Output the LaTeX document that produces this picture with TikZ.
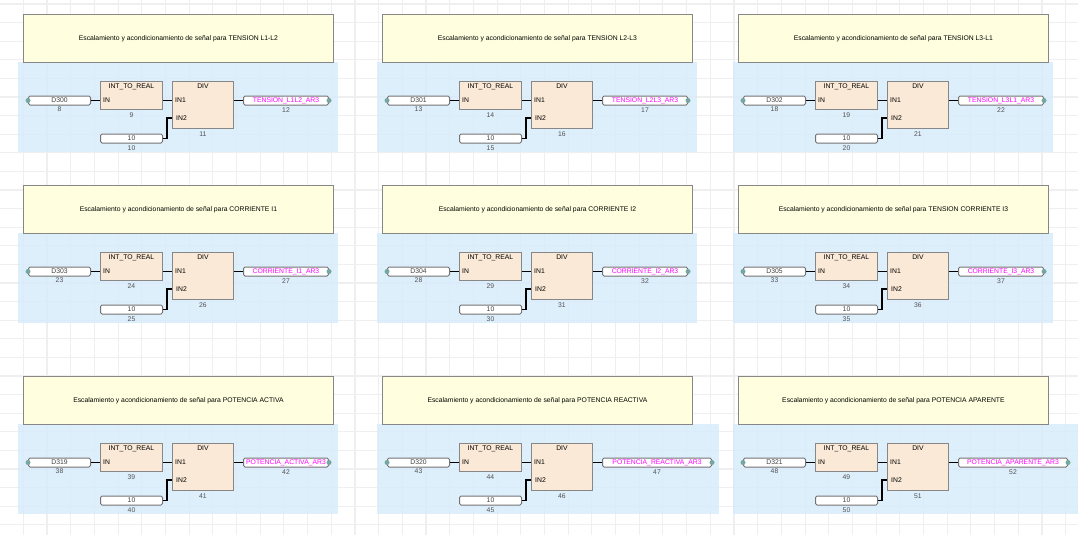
\documentclass[tikz,border=0pt]{standalone}
\usepackage{fontspec}
\setmainfont{Liberation Sans}
\usetikzlibrary{positioning}
\definecolor{gridgray}{RGB}{239,239,239}
\definecolor{rungblue}{RGB}{214,235,252}
\definecolor{notefill}{RGB}{255,255,224}
\definecolor{fbfill}{RGB}{250,233,214}
\definecolor{boxgray}{RGB}{135,135,135}
\definecolor{pinteal}{RGB}{118,166,160}
\definecolor{numgray}{RGB}{80,80,80}
\definecolor{outpink}{RGB}{255,0,255}
\begin{document}
\begin{tikzpicture}[x=1pt,y=-1pt,font=\fontsize{6.8}{8}\selectfont,
		note/.style={draw=boxgray,fill=notefill,line width=0.9pt,minimum width=310pt,minimum height=48pt,anchor=north west,inner sep=0pt},
		varbox/.style={draw=boxgray!85!black,fill=white,rounded corners=1.5pt,line width=1pt,minimum height=9pt,inner sep=0pt,anchor=north west,text=numgray!80!black},
		fb/.style={draw=boxgray,fill=fbfill,line width=0.9pt,anchor=north west,inner sep=0pt},
		pinend/.style={circle,fill=pinteal,minimum size=5pt,inner sep=0pt},
		num/.style={text=numgray,inner sep=0pt},
		wire/.style={line width=1.8pt,black}]
				\useasboundingbox (0,0) rectangle (1078,535);
				\fill[white] (0,0) rectangle (1078,535);
				\foreach \gx in {0,...,45} \draw[gridgray,line width=1.1pt] (\gx*23.69-0.4,0) -- (\gx*23.69-0.4,535);
				\foreach \gy in {0,...,28} \draw[gridgray,line width=1.1pt] (0,4+\gy*18.6) -- (1078,4+\gy*18.6);

				\foreach \bx/\by/\title/\var/\n/\out/\ow/\bw [count=\k] in {
						23/14/TENSION L1-L2/D300/8/TENSION\_L1L2\_AR3/85/315,
						382/14/TENSION L2-L3/D301/13/TENSION\_L2L3\_AR3/85/315,
						738/14/TENSION L3-L1/D302/18/TENSION\_L3L1\_AR3/85/315,
						23/185/CORRIENTE I1/D303/23/CORRIENTE\_I1\_AR3/85/315,
						382/185/CORRIENTE I2/D304/28/CORRIENTE\_I2\_AR3/85/315,
						738/185/TENSION CORRIENTE I3/D305/33/CORRIENTE\_I3\_AR3/85/315,
						23/376/POTENCIA ACTIVA/D319/38/POTENCIA\_ACTIVA\_AR3/85/315,
						382/376/POTENCIA REACTIVA/D320/43/POTENCIA\_REACTIVA\_AR3/109/337,
						738/376/POTENCIA APARENTE/D321/48/POTENCIA\_APARENTE\_AR3/109/340}{
					\pgfmathtruncatemacro{\na}{\n+1}
					\pgfmathtruncatemacro{\nb}{\n+2}
					\pgfmathtruncatemacro{\nc}{\n+3}
					\pgfmathtruncatemacro{\nd}{\n+4}
					\begin{scope}[shift={(\bx,\by)}]
						\fill[rungblue,fill opacity=0.8] (-5,48) rectangle (\bw,138);
						\node[note] (note\k) at (0,0) {Escalamiento y acondicionamiento de señal para \title};

						\node[varbox,minimum width=62pt] (var\k) at (5,81.5) {\var};
						\node[fb,minimum width=62pt,minimum height=28pt] (int\k) at (77,67) {};
						\node[fb,minimum width=61pt,minimum height=47pt] (div\k) at (149,67) {};
						\node[varbox,minimum width=62pt] (const\k) at (77,119.5) {10};
						\node[varbox,minimum width=\ow pt,text=outpink] (out\k) at (220,81.5) {\out};

						\node[anchor=north,inner sep=0pt] (intname\k) at ([yshift=-2.5pt]int\k.north) {INT\_TO\_REAL};
						\node[anchor=north,inner sep=0pt] (divname\k) at ([yshift=-2.5pt]div\k.north) {DIV};
						\node[anchor=west,inner sep=0pt] (in\k) at ([xshift=3pt]int\k.west |- var\k) {IN};
						\node[anchor=west,inner sep=0pt] (ina\k) at ([xshift=3pt]div\k.west |- var\k) {IN1};
						\node[anchor=west,inner sep=0pt] (inb\k) at (153,104) {IN2};

						\node[num,below=1.5pt of var\k] (nvar\k) {\n};
						\node[num,below=2.5pt of int\k] (nint\k) {\na};
						\node[num,below=2pt of const\k] (nconst\k) {\nb};
						\node[num,below=2.5pt of div\k] (ndiv\k) {\nc};
						\node[num,below=2pt of out\k] (nout\k) {\nd};

						\draw[wire] (var\k.east) -- (var\k.east -| int\k.west);
						\draw[wire] (int\k.east |- var\k.east) -- (div\k.west |- var\k.east);
						\draw[wire] (const\k.east) -- ++(4,0) |- (div\k.west |- inb\k);
						\draw[wire] (div\k.east |- var\k.east) -- (out\k.west);

						\node[pinend] (pl\k) at (var\k.west) {};
						\node[pinend] (pr\k) at (out\k.east) {};
					\end{scope}
				}
\end{tikzpicture}
\end{document}
